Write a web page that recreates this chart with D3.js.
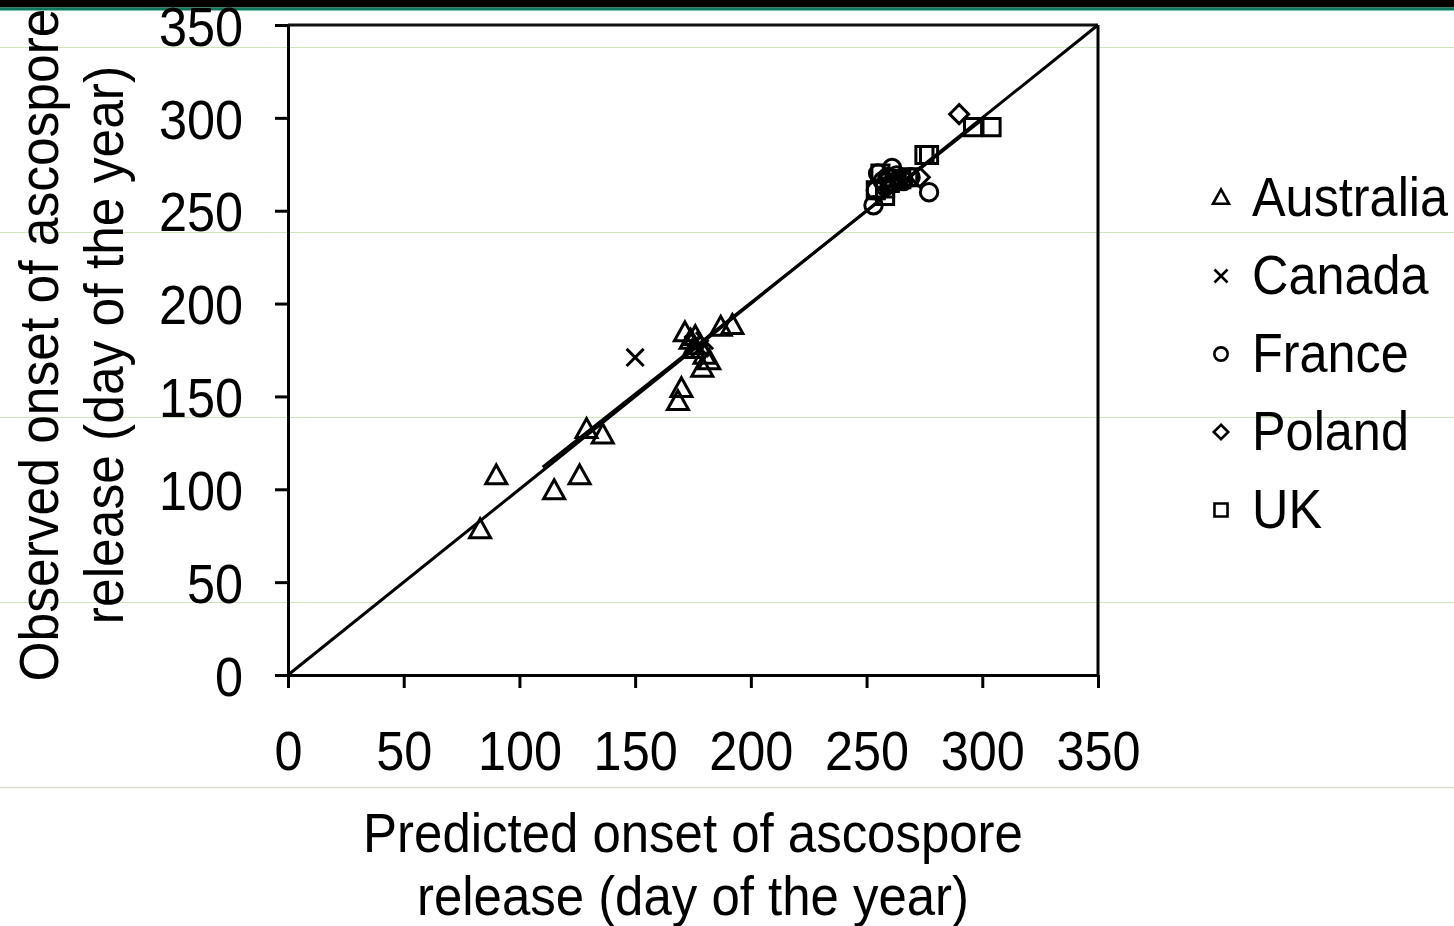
<!DOCTYPE html>
<html><head><meta charset="utf-8">
<script src="https://cdn.jsdelivr.net/npm/d3@7"></script>
<style>
html,body{margin:0;padding:0;background:#fff;}
svg{display:block;font-family:"Liberation Sans",Arial,sans-serif;}
</style></head>
<body>
<svg id="chart" width="1454" height="926"></svg>
<script>
// ---- data ----
const countries = ["Australia","Canada","France","Poland","UK"];
const ticks = [0,50,100,150,200,250,300,350];
const australia = [[83,78],[90,107],[115,99],[126,107],[129,132],[136,129],[168.5,147],[170,154],[171.5,184],[174,180],[176,182],[178,177],[179,165],[182,169],[187,187],[192,188],[175,175],[180,172]];
const canada = [[150,171],[175,178],[178,176],[180,180]];
const france = [[253,253],[254,261],[277,260],[261,273],[257,266],[259,268],[263,269],[266,266],[258,263],[262,265],[269,268],[255,270]];
const poland = [[290,302],[273,268],[264,266]];
const uk = [[254,261],[256,270],[258,258],[260,265],[265,267],[268,268],[275,280],[277,280],[296,295],[304,295],[258,262]];
const oneToOne = [[0,0],[350,350]];
const fitLine = [[110,111.9],[300,299]];
const xTitle = ["Predicted onset of ascospore","release (day of the year)"];
const yTitle = ["Observed onset of ascospore","release (day of the year)"];

const svg = d3.select("#chart");
const W = 1454, H = 926;

// background slide decoration
svg.append("rect").attr("x",0).attr("y",0).attr("width",W).attr("height",7.5).attr("fill","#000");
svg.append("rect").attr("x",0).attr("y",7.5).attr("width",W).attr("height",3).attr("fill","#0b7a5c");
[47,232,417,602].forEach(y=>svg.append("line").attr("x1",0).attr("x2",W).attr("y1",y+0.5).attr("y2",y+0.5).attr("stroke","#cfe6bd").attr("stroke-width",1.2));
svg.append("line").attr("x1",0).attr("x2",W).attr("y1",787.5).attr("y2",787.5).attr("stroke","#d6ddcc").attr("stroke-width",1.5);

const x = d3.scaleLinear().domain([0,350]).range([288,1098]);
const y = d3.scaleLinear().domain([0,350]).range([675,25]);
const SX = 0.9; // horizontal compression of text
const FS = 56;
const SW = 3;

// axes
const gx = svg.append("g").attr("transform","translate(0,675)")
  .call(d3.axisBottom(x).tickValues(ticks).tickSize(13).tickSizeOuter(0).tickFormat(d3.format("d")));
gx.selectAll("text").attr("y",95).attr("dy",null).attr("transform",`scale(${SX},1)`);
const gy = svg.append("g").attr("transform","translate(288,0)")
  .call(d3.axisLeft(y).tickValues(ticks).tickSize(13).tickSizeOuter(0).tickFormat(d3.format("d")));
gy.selectAll("text").attr("x",-45/SX).attr("dy","0.36em").attr("transform",`scale(${SX},1)`);
[gx,gy].forEach(g=>{
  g.selectAll("text").attr("font-size",FS).attr("font-family","'Liberation Sans',Arial,sans-serif").attr("fill","#000");
  g.selectAll("line,path").attr("stroke","#000").attr("stroke-width",SW);
});
// box top & right
svg.append("line").attr("x1",x(0)).attr("x2",x(350)).attr("y1",y(350)).attr("y2",y(350)).attr("stroke","#111").attr("stroke-width",3.2);
svg.append("line").attr("x1",x(350)).attr("x2",x(350)).attr("y1",y(350)).attr("y2",y(0)).attr("stroke","#000").attr("stroke-width",SW);

// lines
const line = d3.line().x(d=>x(d[0])).y(d=>y(d[1]));
svg.append("path").attr("d",line(oneToOne)).attr("fill","none").attr("stroke","#000").attr("stroke-width",SW);
svg.append("path").attr("d",line(fitLine)).attr("fill","none").attr("stroke","#000").attr("stroke-width",2.8);

// marker shapes
function shape(type, s){
  const p = d3.path();
  if(type==="Australia"){ const h=s*0.9, w=s; p.moveTo(0,-h*0.6); p.lineTo(w/2,h*0.4); p.lineTo(-w/2,h*0.4); p.closePath(); }
  else if(type==="Canada"){ const r=s*0.45; p.moveTo(-r,-r); p.lineTo(r,r); p.moveTo(r,-r); p.lineTo(-r,r); }
  else if(type==="France"){ p.arc(0,0,s*0.46,0,2*Math.PI); p.closePath(); }
  else if(type==="Poland"){ const r=s*0.5; p.moveTo(0,-r); p.lineTo(r,0); p.lineTo(0,r); p.lineTo(-r,0); p.closePath(); }
  else { const r=s*0.45; p.rect(-r,-r,2*r,2*r); }
  return p.toString();
}
const series = [["Australia",australia],["Canada",canada],["France",france],["Poland",poland],["UK",uk]];
series.forEach(([name,pts])=>{
  svg.append("g").selectAll("path").data(pts).join("path")
    .attr("transform",d=>`translate(${x(d[0])},${y(d[1])})`)
    .attr("d",shape(name,name==="Australia"?21:19))
    .attr("fill","none").attr("stroke","#000").attr("stroke-width",3);
});

// legend
const legY = [198,276,354,432,510];
countries.forEach((c,i)=>{
  svg.append("path").attr("transform",`translate(1221,${legY[i]})`)
    .attr("d",shape(c,c==="Australia"?16:14.5)).attr("fill","none").attr("stroke","#000").attr("stroke-width",2.6);
  svg.append("text").attr("transform",`translate(1252,${legY[i]+18}) scale(${SX},1)`)
    .attr("font-size",FS).attr("fill","#000").text(c);
});

// axis titles
xTitle.forEach((t,i)=>{
  svg.append("text").attr("transform",`translate(693,${852+i*63}) scale(0.91,1)`)
    .attr("text-anchor","middle").attr("font-size",FS).attr("fill","#000").text(t);
});
yTitle.forEach((t,i)=>{
  svg.append("text").attr("transform",`translate(${58+i*65},345) rotate(-90) scale(0.92,1)`)
    .attr("text-anchor","middle").attr("font-size",FS).attr("fill","#000").text(t);
});
</script>
</body></html>
